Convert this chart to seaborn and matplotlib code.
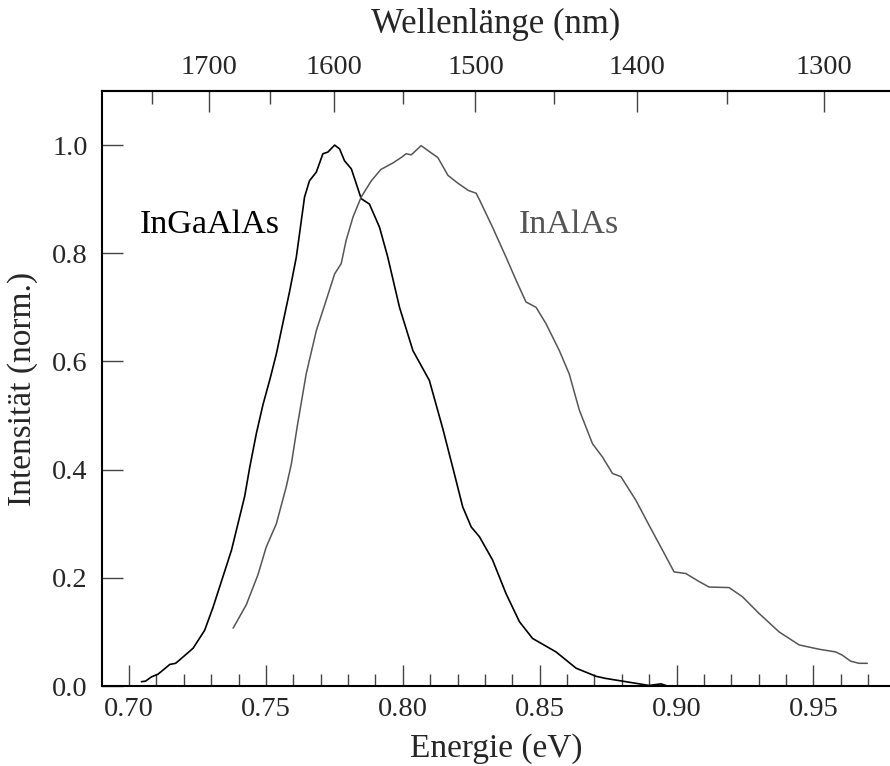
import numpy as np
import pandas as pd
import matplotlib
matplotlib.use("Agg")
import matplotlib.pyplot as plt
import seaborn as sns

# ---- data ----
ingaalas_E = [0.7045, 0.7060, 0.7082, 0.7106, 0.7149, 0.7170, 0.7200, 0.7234, 0.7276, 0.7307,
              0.7337, 0.7374, 0.7404, 0.7422, 0.7441, 0.7465, 0.7489, 0.7515, 0.7538, 0.7587, 0.7611,
              0.7641, 0.7659, 0.7684, 0.7708, 0.7726, 0.7751, 0.7769, 0.7787, 0.7812, 0.7848,
              0.7878, 0.7915, 0.7945, 0.7988, 0.8037, 0.8097, 0.8146, 0.8182, 0.8219, 0.8250,
              0.8280, 0.8328, 0.8377, 0.8426, 0.8474, 0.8560, 0.8633, 0.8706, 0.8742, 0.8803,
              0.8852, 0.8900, 0.8943, 0.8967]
ingaalas_I = [0.008, 0.009, 0.017, 0.022, 0.040, 0.042, 0.055, 0.070, 0.103, 0.146,
              0.193, 0.251, 0.313, 0.350, 0.405, 0.467, 0.520, 0.568, 0.614, 0.731, 0.793,
              0.904, 0.934, 0.950, 0.984, 0.987, 1.000, 0.993, 0.971, 0.956, 0.901,
              0.891, 0.848, 0.793, 0.700, 0.620, 0.565, 0.476, 0.405, 0.331, 0.294,
              0.276, 0.233, 0.171, 0.119, 0.088, 0.063, 0.033, 0.018, 0.014, 0.009,
              0.005, 0.001, 0.004, 0.000]

inalas_E = [0.7380, 0.7428, 0.7471, 0.7501, 0.7538, 0.7574, 0.7593, 0.7614, 0.7647, 0.7684,
            0.7720, 0.7751, 0.7775, 0.7793, 0.7818, 0.7848, 0.7885, 0.7920, 0.7964, 0.7997,
            0.8012, 0.8031, 0.8067, 0.8097, 0.8128, 0.8165, 0.8200, 0.8240, 0.8268, 0.8280,
            0.8328, 0.8377, 0.8414, 0.8450, 0.8487, 0.8523, 0.8572, 0.8608, 0.8645, 0.8693,
            0.8730, 0.8766, 0.8797, 0.8852, 0.8900, 0.8949, 0.8991, 0.9034, 0.9083, 0.9119,
            0.9192, 0.9241, 0.9302, 0.9375, 0.9448, 0.9521, 0.9582, 0.9606, 0.9636, 0.9667,
            0.9697]
inalas_I = [0.107, 0.150, 0.206, 0.257, 0.300, 0.368, 0.411, 0.479, 0.577, 0.657,
            0.713, 0.762, 0.781, 0.824, 0.867, 0.904, 0.934, 0.955, 0.967, 0.978,
            0.984, 0.982, 0.999, 0.988, 0.977, 0.944, 0.930, 0.916, 0.911, 0.899,
            0.848, 0.793, 0.750, 0.710, 0.700, 0.670, 0.620, 0.577, 0.510, 0.448,
            0.423, 0.393, 0.387, 0.343, 0.297, 0.251, 0.211, 0.208, 0.193, 0.183,
            0.182, 0.165, 0.134, 0.100, 0.076, 0.068, 0.063, 0.057, 0.046, 0.042,
            0.042]

x_ticks = [0.70, 0.75, 0.80, 0.85, 0.90, 0.95]
y_ticks = [0.0, 0.2, 0.4, 0.6, 0.8, 1.0]
wl_ticks = [1700, 1600, 1500, 1400, 1300]
wl_minor = [1750, 1650, 1550, 1450, 1350]

sns.set_style("ticks")
plt.rcParams["font.family"] = ["Liberation Serif", "DejaVu Serif"]

df1 = pd.DataFrame({"E": ingaalas_E, "I": ingaalas_I})
df2 = pd.DataFrame({"E": inalas_E, "I": inalas_I})

fig = plt.figure(figsize=(8.9, 7.66), dpi=100)
ax = fig.add_axes([0.1143, 0.1044, 0.8857, 0.7768])

sns.lineplot(data=df1, x="E", y="I", ax=ax, color="black", lw=1.2, sort=False)
sns.lineplot(data=df2, x="E", y="I", ax=ax, color="#555555", lw=1.1, sort=False)

ax.set_xlim(0.69, 0.978)
ax.set_ylim(0.0, 1.1)
ax.set_xticks(x_ticks)
ax.set_xticklabels([f"{v:.2f}" for v in x_ticks])
ax.set_xticks(np.arange(0.70, 0.975, 0.01), minor=True)
ax.set_yticks(y_ticks)
ax.set_yticklabels([f"{v:.1f}" for v in y_ticks])

for s in ["left", "bottom", "top"]:
    ax.spines[s].set_linewidth(1.5)
    ax.spines[s].set_color("black")
ax.spines["right"].set_visible(False)

ax.tick_params(axis="x", which="major", direction="in", length=15, width=1.0,
               color="#444444", labelsize=20.5, pad=8, top=False)
ax.tick_params(axis="x", which="minor", direction="in", length=9, width=1.0,
               color="#444444", top=False)
ax.tick_params(axis="y", which="major", direction="in", length=15, width=1.0,
               color="#444444", labelsize=20.5, pad=10, right=False)

ax.set_xlabel("Energie (eV)", fontsize=24, labelpad=8)
ax.set_ylabel("Intensität (norm.)", fontsize=24, labelpad=10)

def e2wl(E):
    E = np.asarray(E, dtype=float)
    with np.errstate(divide="ignore"):
        return 1239.84 / E

secax = ax.secondary_xaxis("top", functions=(e2wl, e2wl))
secax.set_xticks(wl_ticks)
secax.set_xticklabels([str(v) for v in wl_ticks])
secax.set_xticks(wl_minor, minor=True)
secax.spines["top"].set_linewidth(1.5)
secax.tick_params(axis="x", which="major", direction="in", length=15, width=1.0,
                  color="#444444", labelsize=20.5, pad=8)
secax.tick_params(axis="x", which="minor", direction="in", length=9, width=1.0,
                  color="#444444")
secax.set_xlabel("Wellenlänge (nm)", fontsize=25, labelpad=16)

ax.text(0.7039, 0.853, "InGaAlAs", fontsize=24.5, color="black", va="center", ha="left")
ax.text(0.8423, 0.853, "InAlAs", fontsize=24.5, color="#555555", va="center", ha="left")

fig.savefig("out.png", dpi=100)
